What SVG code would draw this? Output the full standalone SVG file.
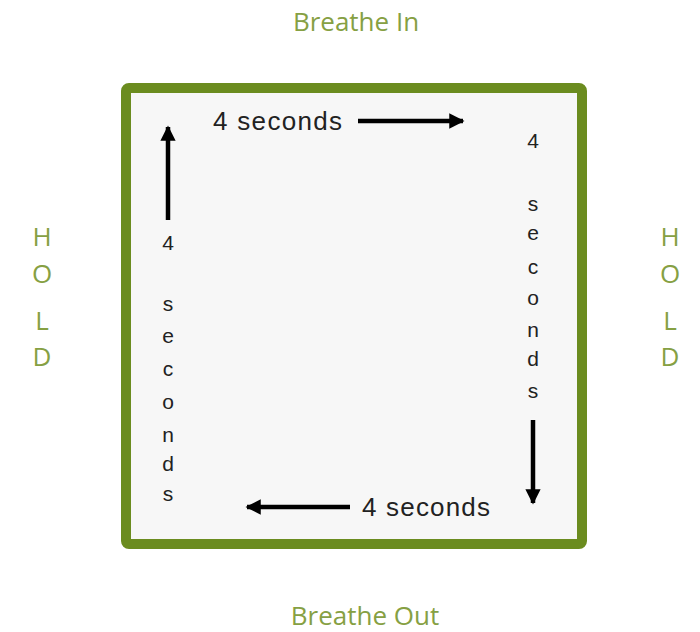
<svg xmlns="http://www.w3.org/2000/svg" width="700" height="632" viewBox="0 0 700 632">
<style>
.title{font-family:"Open Sans","DejaVu Sans",sans-serif;font-size:26px;fill:#86a043;text-anchor:middle}
.lbl{font-family:"Liberation Sans",Arial,sans-serif;font-size:26px;fill:#222}
.v{font-family:"Liberation Sans",Arial,sans-serif;font-size:21px;fill:#222;text-anchor:middle}
.arr{stroke:#000;stroke-width:4.5;fill:none}
</style>
<defs>
<marker id="ah" viewBox="0 0 10 10" refX="9" refY="5" markerWidth="3.4" markerHeight="3.4" orient="auto" markerUnits="strokeWidth">
<path d="M0,0 L10,5 L0,10 Z" fill="#000"/>
</marker>
</defs>
<rect width="700" height="632" fill="#fff"/>
<g id="box">
<rect x="126" y="88" width="456" height="456" rx="3" fill="#f7f7f7" stroke="#6b8c1f" stroke-width="10"/>
</g>
<g id="breathe-in"><text class="title" x="356" y="31">Breathe In</text></g>
<g id="breathe-out"><text class="title" x="365" y="625">Breathe Out</text></g>
<g id="hold-left">
<text class="title" x="42" y="246">H</text>
<text class="title" x="42" y="283">O</text>
<text class="title" x="42" y="330">L</text>
<text class="title" x="42" y="366">D</text>
</g>
<g id="hold-right">
<text class="title" x="670" y="246">H</text>
<text class="title" x="670" y="283">O</text>
<text class="title" x="670" y="330">L</text>
<text class="title" x="670" y="366">D</text>
</g>
<g id="top-label"><text class="lbl" x="213" y="130" textLength="129">4 seconds</text></g>
<g id="bottom-label"><text class="lbl" x="362" y="516" textLength="128">4 seconds</text></g>
<g id="right-label">
<text class="v" x="533" y="148">4</text>
<text class="v" x="533" y="211">s</text>
<text class="v" x="533" y="240">e</text>
<text class="v" x="533" y="274">c</text>
<text class="v" x="533" y="305">o</text>
<text class="v" x="533" y="337">n</text>
<text class="v" x="533" y="366">d</text>
<text class="v" x="533" y="398">s</text>
</g>
<g id="left-label">
<text class="v" x="168" y="250">4</text>
<text class="v" x="168" y="311">s</text>
<text class="v" x="168" y="343">e</text>
<text class="v" x="168" y="376">c</text>
<text class="v" x="168" y="409">o</text>
<text class="v" x="168" y="442">n</text>
<text class="v" x="168" y="471">d</text>
<text class="v" x="168" y="501">s</text>
</g>
<g id="connectors">
<line class="arr" x1="358" y1="121" x2="463" y2="121" marker-end="url(#ah)"/>
<line class="arr" x1="533" y1="420" x2="533" y2="503" marker-end="url(#ah)"/>
<line class="arr" x1="350" y1="507" x2="247" y2="507" marker-end="url(#ah)"/>
<line class="arr" x1="168" y1="220" x2="168" y2="127" marker-end="url(#ah)"/>
</g>
</svg>
